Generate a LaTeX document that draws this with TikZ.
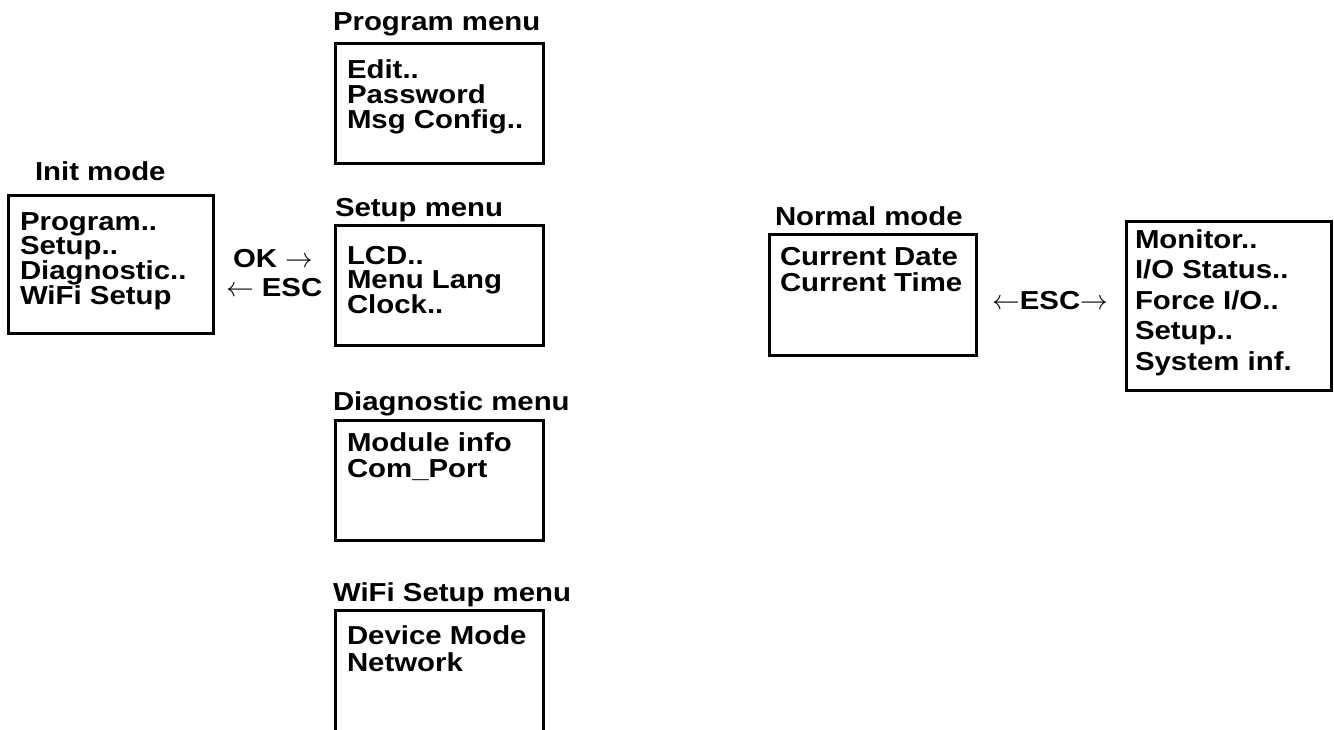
\documentclass[tikz,border=0pt]{standalone}
\usepackage{fontspec}
\setmainfont[FakeStretch=1.13]{Liberation Sans}
\usetikzlibrary{fit}
\begin{document}
\begin{tikzpicture}[x=0.75pt,y=-0.75pt,
  every node/.style={inner sep=0pt, outer sep=0pt},
  txt/.style={font=\fontsize{19.5}{18.75}\selectfont\bfseries, anchor=base west},
  ttl/.style={font=\fontsize{19.5}{18.75}\selectfont\bfseries, anchor=base west},
  menubox/.style={draw, line width=2.25pt, inner sep=0pt}]
\useasboundingbox (0,0) rectangle (1334,729);

% Init mode
\node[ttl] (initT) at (35,180) {Init mode};
\node[menubox, fit={(8,195) (213,333)}] (init) {};
\foreach \t [count=\i] in {Program..,Setup..,Diagnostic..,WiFi Setup}
  \node[txt] (init-\i) at (20,230+24.7*\i-24.7) {\t};

% OK / ESC
\node[txt] (ok) at (233,267) {OK $\rightarrow$};
\node[txt] (esc1) at (226,296) {$\leftarrow$ ESC};

% Program menu
\node[ttl] (progT) at (333,30) {Program menu};
\node[menubox, fit={(335,43) (543,163)}] (prog) {};
\foreach \t [count=\i] in {Edit..,Password,Msg Config..}
  \node[txt] (prog-\i) at (347,78+25*\i-25) {\t};

% Setup menu
\node[ttl] (setT) at (335,216) {Setup menu};
\node[menubox, fit={(335,225) (543,345)}] (setup) {};
\foreach \t [count=\i] in {LCD..,Menu Lang,Clock..}
  \node[txt] (set-\i) at (347,264+24.5*\i-24.5) {\t};

% Diagnostic menu
\node[ttl] (diagT) at (333,410) {Diagnostic menu};
\node[menubox, fit={(335,420) (543,540)}] (diag) {};
\foreach \t [count=\i] in {Module info,Com\_Port}
  \node[txt] (diag-\i) at (347,451+26*\i-26) {\t};

% WiFi Setup menu
\node[ttl] (wifiT) at (333,601) {WiFi Setup menu};
\node[menubox, fit={(335,610) (543,745)}] (wifi) {};
\foreach \t [count=\i] in {Device Mode,Network}
  \node[txt] (wifi-\i) at (347,644+27*\i-27) {\t};

% Normal mode
\node[ttl] (normT) at (775,225) {Normal mode};
\node[menubox, fit={(769,234) (976,355)}] (normal) {};
\foreach \t [count=\i] in {Current Date,Current Time}
  \node[txt] (norm-\i) at (780,265+26*\i-26) {\t};

% ESC between
\node[txt, anchor=base] (esc2) at (1050,309) {$\leftarrow$ESC$\rightarrow$};

% Right menu
\node[menubox, fit={(1126,221) (1331,390)}] (mon) {};
\foreach \t [count=\i] in {Monitor..,I/O Status..,Force I/O..,Setup..,System inf.}
  \node[txt] (mon-\i) at (1135,248+30.5*\i-30.5) {\t};
\end{tikzpicture}
\end{document}
